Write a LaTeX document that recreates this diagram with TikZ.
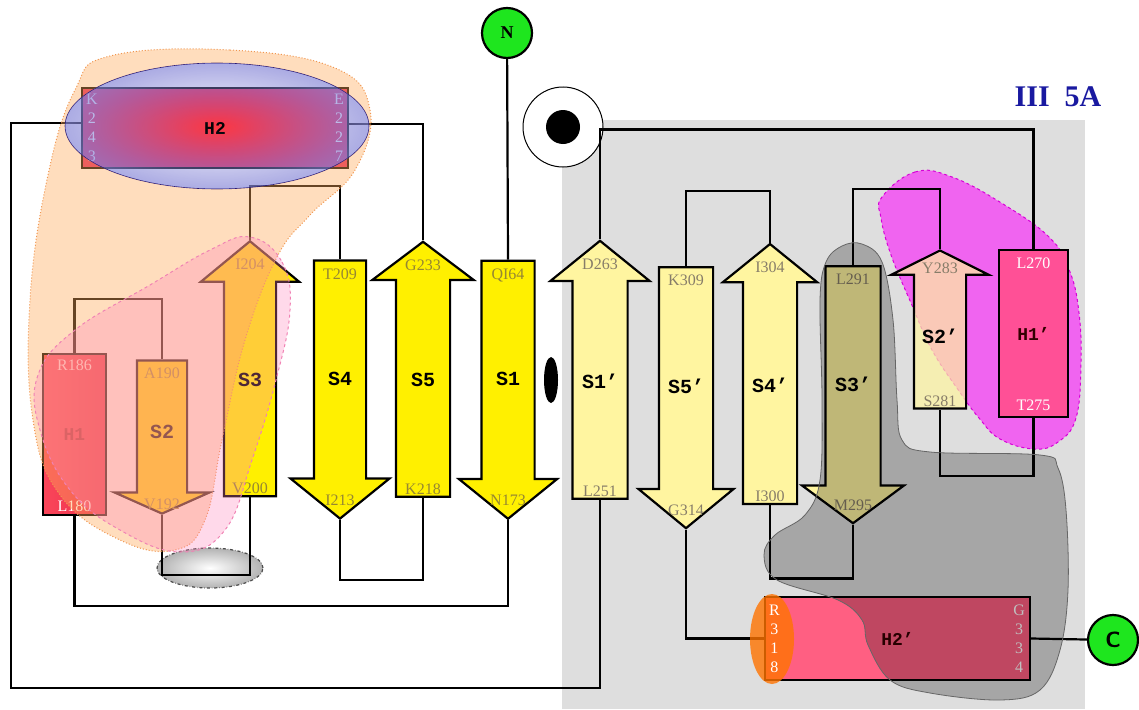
\documentclass[tikz,border=0pt]{standalone}
\usepackage{fontspec}
\setmainfont{Liberation Serif}
\setmonofont{Liberation Mono}
\usepackage{tikz}
\usetikzlibrary{shapes.arrows,shapes.geometric,positioning,calc,fadings}
\definecolor{bggray}{RGB}{222,222,222}
\definecolor{strandyel}{RGB}{255,240,0}
\definecolor{paleyel}{RGB}{255,245,160}
\definecolor{resolive}{RGB}{150,135,50}
\definecolor{resgray}{RGB}{135,125,105}
\definecolor{termgreen}{RGB}{30,230,30}
\definecolor{h2red}{RGB}{255,55,65}
\definecolor{h2purple}{RGB}{225,45,95}
\definecolor{h1red}{RGB}{250,70,90}
\definecolor{h1dark}{RGB}{235,45,75}
\definecolor{h1text}{RGB}{170,30,50}
\definecolor{h1pink}{RGB}{255,80,150}
\definecolor{h2pink}{RGB}{255,95,130}
\definecolor{blueoval}{RGB}{135,135,215}
\definecolor{peach}{RGB}{255,170,90}
\definecolor{peachline}{RGB}{240,150,80}
\definecolor{rose}{RGB}{255,130,185}
\definecolor{roseline}{RGB}{240,130,180}
\definecolor{magblob}{RGB}{255,0,255}
\definecolor{magline}{RGB}{215,0,215}
\definecolor{titleblue}{RGB}{25,25,160}
\tikzfading[name=ovalfade,inner color=transparent!100,outer color=transparent!0]

\begin{document}
\begin{tikzpicture}[x=1pt,y=-1pt]
  \tikzstyle{strand}=[single arrow,draw=black,line width=2.2pt,single arrow head indent=0pt,inner sep=0pt,align=center,font=\ttfamily\bfseries\fontsize{20}{20}\selectfont]
  \tikzstyle{upstrand}=[strand,shape border rotate=90]
  \tikzstyle{downstrand}=[strand,shape border rotate=270]
  \tikzstyle{helixbox}=[rectangle,draw=black,line width=2.2pt,inner sep=0pt,font=\ttfamily\bfseries\fontsize{18}{18}\selectfont]
  \tikzstyle{reslab}=[inner sep=0pt,font=\fontsize{16}{16}\selectfont,text=resolive]
  \tikzstyle{reslabR}=[reslab,text=resgray]
  \tikzstyle{collab}=[inner sep=0pt,align=center,font=\fontsize{16}{19}\selectfont]
  \tikzstyle{termnode}=[circle,draw=black,line width=2.2pt,fill=termgreen,minimum size=50pt,inner sep=0pt,font=\bfseries\fontsize{18}{18}\selectfont]
  \tikzstyle{link}=[draw=black,line width=2.2pt]

  \useasboundingbox (0,0) rectangle (1139,709);
  \fill[bggray] (562,120) rectangle (1085,709);
  % blobs lying under the sheets
  \filldraw[fill=magblob,fill opacity=0.55,draw=magline,dashed,line width=1pt] plot[smooth cycle,tension=0.7] coordinates {(882,197) (915,172) (952,177) (1003,204) (1050,238) (1070,272) (1079,313) (1081,364) (1076,418) (1058,442) (1034,449) (1000,439) (979,418) (959,391) (932,350) (911,303) (891,255) (881,218)};
  \node[ellipse,draw=black!70,dash dot,line width=1.2pt,inner color=white,outer color=gray!60,minimum width=106pt,minimum height=40pt] (turn) at (210,568) {};

  % left sheet
  \node[helixbox,minimum width=266pt,minimum height=80pt,inner color=h2red,outer color=h2purple] (h2) at (215,128) {H2};
  \node[helixbox,minimum width=63pt,minimum height=161pt,left color=h1red,right color=h1dark,text=h1text] (h1) at (74.5,434.5) {H1};
  \node[downstrand,fill=strandyel!88!orange,minimum height=153pt,minimum width=93pt,text width=48pt,single arrow head extend=22.5pt,single arrow tip angle=132] (s2) at (162,431.5) {S2};
  \node[upstrand,fill=strandyel,minimum height=255pt,minimum width=96pt,text width=50pt,single arrow head extend=23pt,single arrow tip angle=101] (s3) at (250,379.5) {S3};
  \node[downstrand,fill=strandyel,minimum height=258pt,minimum width=97pt,text width=50pt,single arrow head extend=23.5pt,single arrow tip angle=102] (s4) at (340,379) {S4};
  \node[upstrand,fill=strandyel,minimum height=255pt,minimum width=99pt,text width=52pt,single arrow head extend=23.5pt,single arrow tip angle=106] (s5) at (423,379.5) {S5};
  \node[downstrand,fill=strandyel,minimum height=258pt,minimum width=96pt,text width=51pt,single arrow head extend=22.5pt,single arrow tip angle=102] (s1) at (508,379) {S1};

  % right sheet
  \node[upstrand,fill=paleyel,minimum height=258pt,minimum width=97pt,text width=53pt,single arrow head extend=22pt,single arrow tip angle=102] (s1p) at (600,381) {S1’};
  \node[downstrand,fill=paleyel,minimum height=261pt,minimum width=93pt,text width=52pt,single arrow head extend=20.5pt,single arrow tip angle=101] (s5p) at (686,386.5) {S5’};
  \node[upstrand,fill=paleyel,minimum height=260pt,minimum width=92pt,text width=52pt,single arrow head extend=20pt,single arrow tip angle=102] (s4p) at (770,385) {S4’};
  \node[downstrand,fill=paleyel,minimum height=257pt,minimum width=100pt,text width=53pt,single arrow head extend=23.5pt,single arrow tip angle=107] (s3p) at (853,384.5) {S3’};
  \node[upstrand,fill=paleyel,fill opacity=0.7,text opacity=1,minimum height=158pt,minimum width=95pt,text width=50pt,single arrow head extend=22.5pt,single arrow tip angle=127] (s2p) at (940,336) {S2’};
  \node[helixbox,minimum width=69pt,minimum height=167pt,fill=h1pink,text=black!80!red] (h1p) at (1033.5,333.5) {H1’};
  \node[helixbox,minimum width=265pt,minimum height=83pt,fill=h2pink,text=black!80!red] (h2p) at (897.5,638.5) {H2’};

  \node[termnode] (nterm) at (507,33) {N};
  \node[termnode,font=\sffamily\bfseries\fontsize{22}{22}\selectfont] (cterm) at (1113,640) {C};
  \node[circle,draw=black,line width=1pt,fill=white,minimum size=80pt] (ring) at (563,127) {};
  \node[circle,fill=black,minimum size=34pt,inner sep=0pt] (dot) at (ring.center) {};
  \node[ellipse,fill=black,minimum width=14pt,minimum height=46pt,inner sep=0pt] (twofold) at (551,380) {};
  \node[font=\bfseries\fontsize{30}{30}\selectfont,text=titleblue] (title) at (1058,97) {III\ \ 5A};

  % connectors
  \draw[link] ($(h2.west)+(0,-5)$) -- ++(-70,0) -- ++(0,565) -| (s1p.tail);
  \draw[link] (h1.south) -- ++(0,90) -| (s1.tip);
  \draw[link] (h1.north) -- ++(0,-54) -| (s2.tail);
  \draw[link] (s2.tip) -- ++(0,60) -| (s3.tail);
  \draw[link] (s3.tip) -- ++(0,-54) -| (s4.tail);
  \draw[link] (s4.tip) -- ++(0,60) -| (s5.tail);
  \draw[link] (s5.tip) |- ($(h2.east)+(0,-4)$);
  \draw[link] (nterm) -- (s1.tail);
  \draw[link] (s1p.tip) -- ++(0,-110) -| (h1p.north);
  \draw[link] (h1p.south) -- ++(0,58) -| (s2p.tail);
  \draw[link] (s2p.tip) -- ++(0,-60) -| (s3p.tail);
  \draw[link] (s3p.tip) -- ++(0,54) -| (s4p.tail);
  \draw[link] (s4p.tip) -- ++(0,-52) -| (s5p.tail);
  \draw[link] (s5p.tip) |- (h2p.west);
  \draw[link] (h2p.east) -- (cterm);

  % residue labels
  \node[reslab,text=pink!40!white,below=7pt of h1.north] (r186) {R186};
  \node[reslab,text=white,above=4pt of h1.south] (l180) {L180};
  \node[reslab,below=8pt of s2.tail] (a190) {A190};
  \node[reslab,above=5pt of s2.tip] (v192) {V192};
  \node[reslab,below=19pt of s3.tip] (i204) {I204};
  \node[reslab,above=3pt of s3.tail] (v200) {V200};
  \node[reslab,below=9pt of s4.tail] (t209) {T209};
  \node[reslab,above=14pt of s4.tip] (i213) {I213};
  \node[reslab,below=19pt of s5.tip] (g233) {G233};
  \node[reslab,above=3pt of s5.tail] (k218) {K218};
  \node[reslab,below=9pt of s1.tail] (q164) {QI64};
  \node[reslab,above=14pt of s1.tip] (n173) {N173};
  \node[collab,text=white,right=5pt of h2.west] (k243) {K\\2\\4\\3};
  \node[collab,text=white,left=5pt of h2.east] (e227) {E\\2\\2\\7};
  \node[reslabR,below=19pt of s1p.tip] (d263) {D263};
  \node[reslabR,above=3pt of s1p.tail] (l251) {L251};
  \node[reslabR,below=9pt of s5p.tail] (k309) {K309};
  \node[reslabR,above=14pt of s5p.tip] (g314) {G314};
  \node[reslabR,below=19pt of s4p.tip] (i304) {I304};
  \node[reslabR,above=3pt of s4p.tail] (i300) {I300};
  \node[reslabR,below=9pt of s3p.tail] (l291) {L291};
  \node[reslabR,above=14pt of s3p.tip] (m295) {M295};
  \node[reslabR,below=13pt of s2p.tip] (y283) {Y283};
  \node[reslabR,above=3pt of s2p.tail] (s281) {S281};
  \node[reslab,text=white,below=9pt of h1p.north] (l270) {L270};
  \node[reslab,text=white,above=7pt of h1p.south] (t275) {T275};
  \node[collab,text=white,left=6pt of h2p.east] (g334) {G\\3\\3\\4};

  % highlighted regions
  \fill[blueoval,path fading=ovalfade,fill opacity=0.7] (217,126) ellipse (152 and 63);
  \draw[blue!50!black,line width=0.6pt] (217,126) ellipse (152 and 63);
  \fill[peach,fill opacity=0.4,even odd rule] plot[smooth cycle,tension=0.7] coordinates {(110,56) (230,50) (335,68) (370,110) (355,170) (310,215) (277,257) (245,340) (222,440) (205,520) (175,550) (120,540) (60,495) (33,420) (30,300) (48,175) (75,90)} (217,126) ellipse (152 and 63);
  \draw[peachline,dotted,line width=1pt] plot[smooth cycle,tension=0.7] coordinates {(110,56) (230,50) (335,68) (370,110) (355,170) (310,215) (277,257) (245,340) (222,440) (205,520) (175,550) (120,540) (60,495) (33,420) (30,300) (48,175) (75,90)};
  \filldraw[fill=rose,fill opacity=0.3,draw=roseline,dashed,line width=1pt] plot[smooth cycle,tension=0.7] coordinates {(250,237) (282,262) (290,310) (276,380) (252,460) (225,530) (180,552) (120,530) (70,490) (40,430) (38,375) (75,330) (150,285) (210,250)};
  \filldraw[fill=black,fill opacity=0.25,draw=black!60,line width=0.8pt] plot[smooth cycle,tension=0.6] coordinates {(842,246) (862,244) (882,262) (893,320) (897,400) (902,440) (930,452) (1040,455) (1058,468) (1066,510) (1068,590) (1060,650) (1040,690) (1000,700) (930,693) (890,680) (868,645) (862,620) (838,600) (777,580) (764,555) (775,535) (805,515) (820,480) (822,400) (820,300) (826,262)};
  \fill[orange!90!red,opacity=0.8] (772,639) ellipse (22 and 45);
  \node[collab,text=white,right=5pt of h2p.west] (r318) {R\\3\\1\\8};
\end{tikzpicture}
\end{document}
